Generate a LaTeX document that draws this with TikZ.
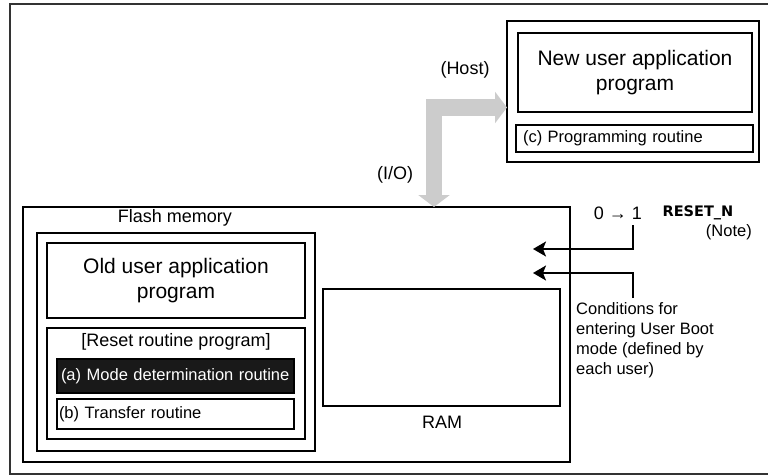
\documentclass[tikz,border=0pt]{standalone}
\usepackage{fontspec}
\setmainfont{Liberation Sans}
\newfontfamily\pinfont{DejaVu Sans}
\usetikzlibrary{arrows.meta}
\tikzstyle{box}=[draw, line width=1.8pt, inner sep=0pt, align=center]
\tikzstyle{big text}=[font=\fontsize{21}{25}\selectfont]
\tikzstyle{mid text}=[font=\fontsize{18}{22}\selectfont]
\tikzstyle{small text}=[font=\fontsize{16.5}{20}\selectfont]
\tikzstyle{routine}=[box, minimum height=30pt, text width=229pt, align=left, small text]
\tikzstyle{signal}=[line width=1.6pt, -{Stealth[length=13pt,width=15pt,inset=3pt]}]
\tikzstyle{host link}=[line width=16.5pt, draw=gray!40,
  {Triangle[length=12pt,width=31pt]}-{Triangle[length=12pt,width=31pt]}]

\begin{document}
\begin{tikzpicture}[x=1pt,y=-1pt]
    \useasboundingbox (0,0) rectangle (768,476);

    % Frame
    \draw[line width=2pt, black!80] (10,4) rectangle (772,474);

    % Host side
    \draw (633,91.5) node[box, minimum width=252pt, minimum height=141pt] (host) {};
    \draw (635,72.5) node[box, big text, minimum width=234pt, minimum height=79pt] (newprog)
      {New user application\\program};
    \draw (634.5,138.5) node[box, small text, minimum height=27pt, text width=223pt,
      inner xsep=7pt, align=left] (progc) {(c) Programming routine};

    % Microcontroller side
    \draw (296.5,334.5) node[box, minimum width=547pt, minimum height=255pt] (mcu) {};
    \draw (176,342) node[box, minimum width=278pt, minimum height=218pt] (flash) {};
    \draw (175,218) node[mid text] (flashlbl) {Flash memory};
    \draw (176,280.5) node[box, big text, minimum width=258pt, minimum height=75pt] (oldprog)
      {Old user application\\program};
    \draw (176,383.5) node[box, minimum width=258pt, minimum height=111pt] (reset) {};
    \draw (176,342) node[mid text] (resetlbl) {[Reset routine program]};
    \draw (175.5,376) node[routine, fill=black!90, text=white, minimum height=34pt,
      inner xsep=4pt] (moda) {(a) Mode determination routine};
    \draw (175.5,414) node[routine, inner xsep=2pt, text width=233pt] (tranb)
      {(b) Transfer routine};
    \draw (441.5,347.5) node[box, minimum width=237pt, minimum height=117pt] (ram) {};
    \draw (442,422) node[mid text] (ramlbl) {RAM};

    % Host link
    \draw (465,70) node[mid text] (hostlbl) {(Host)};
    \draw (395,175) node[mid text] (iolbl) {(I/O)};
    \coordinate (ioin) at (434,207);
    \coordinate (hostin) at (507,107.5);
    \draw[host link] (ioin) |- (hostin);

    % Signals
    \draw (618,213) node[mid text] (zeroone) {0 → 1};
    \draw (698,213) node[font=\pinfont\bfseries\fontsize{14.5}{17}\selectfont] (rstn) {RESET\_N};
    \draw (752,232) node[small text, anchor=east, inner sep=0pt] (note) {(Note)};
    \draw (576,302) node[small text, anchor=north west, inner sep=0pt, align=left] (cond)
      {Conditions for\\entering User Boot\\mode (defined by\\each user)};
    \coordinate (rstsrc) at (633,225);
    \coordinate (rstin) at (533,249);
    \coordinate (condsrc) at (633,298);
    \coordinate (condin) at (533,273);
    \draw[signal] (rstsrc) |- (rstin);
    \draw[signal] (condsrc) |- (condin);

\end{tikzpicture}
\end{document}
